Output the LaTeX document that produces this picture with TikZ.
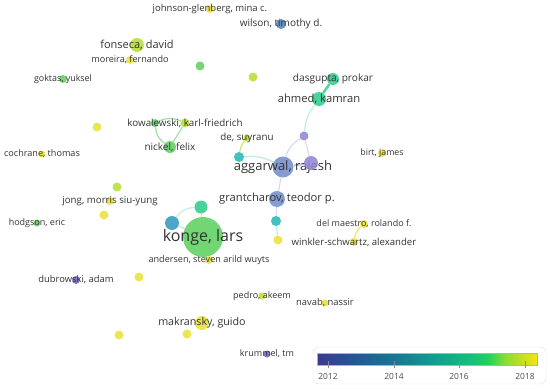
\documentclass[tikz,border=0pt]{standalone}
\usepackage{fontspec}
\setmainfont{Open Sans}
\usetikzlibrary{backgrounds}

\definecolor{yr18}{HTML}{E8E032}
\definecolor{yr17}{HTML}{B5DD2E}
\definecolor{yr16}{HTML}{5ACF5C}
\definecolor{yr15}{HTML}{27CB88}
\definecolor{yr14}{HTML}{1DB7B5}
\definecolor{yr13}{HTML}{2E97BB}
\definecolor{yr12}{HTML}{6F8BC7}
\definecolor{yrw}{HTML}{4D7FB6}
\definecolor{yrp}{HTML}{8C84D0}
\definecolor{yrd}{HTML}{6B62B4}
\definecolor{txt}{HTML}{333333}

\definecolor{c0}{HTML}{3B3A8A}
\definecolor{c1}{HTML}{2A4E92}
\definecolor{c2}{HTML}{1F6493}
\definecolor{c3}{HTML}{167F93}
\definecolor{c4}{HTML}{10A08F}
\definecolor{c5}{HTML}{12C07A}
\definecolor{c6}{HTML}{20D45A}
\definecolor{c7}{HTML}{90DC30}
\definecolor{c8}{HTML}{F5E312}
\pgfdeclarehorizontalshading{yearbar}{100bp}{color(0bp)=(c0); color(25bp)=(c0); color(31bp)=(c1); color(37.5bp)=(c2); color(45bp)=(c3); color(52bp)=(c4); color(60bp)=(c5); color(64bp)=(c6); color(68bp)=(c7); color(75bp)=(c8); color(100bp)=(c8)}

\tikzset{
  author/.style={circle,inner sep=0pt,fill=#1,fill opacity=.85,text opacity=1},
  lbl/.style={text=txt,text opacity=1,inner sep=0pt,font=\fontsize{#1}{#1}\selectfont},
  lbl/.default=9.2,
  link/.style={draw=#1,draw opacity=.3,line width=1.2pt},
}

\begin{document}
\begin{tikzpicture}[x=1pt,y=-1pt]
\useasboundingbox (0,0) rectangle (550,389);

% authors
\node[author=yr18,minimum size=8pt,label={[lbl=9.5]center:johnson-glenberg, mina c.}] (johnson) at (210,9) {};
\node[author=yrw,minimum size=10pt,label={[lbl=10]center:wilson, timothy d.}] (wilson) at (281,24) {};
\node[author=yr17,minimum size=14pt,label={[lbl=11]center:fonseca, david}] (fonseca) at (137,45) {};
\node[author=yr18,minimum size=8pt,label={[lbl=9.1]center:moreira, fernando}] (moreira) at (130,60) {};
\node[author=yr16,minimum size=9pt] (g1) at (200,66) {};
\node[author=yr17,minimum size=9pt] (g2) at (253,77) {};
\node[author=yr16,minimum size=8pt,label={[lbl=8.9]center:goktas, yuksel}] (goktas) at (63,79) {};
\node[author=yr15,minimum size=12pt,label={[lbl=10.1]center:dasgupta, prokar}] (dasgupta) at (333,79) {};
\node[author=yr15,minimum size=14pt,label={[lbl=11.2]center:ahmed, kamran}] (ahmed) at (319,99) {};
\node[author=yr16,minimum size=8pt] (g3) at (155,123) {};
\node[author=yr17,minimum size=9pt,label={[lbl=9.8]center:kowalewski, karl-friedrich}] (kowalewski) at (185,123) {};
\node[author=yr16,minimum size=12pt,label={[lbl=10]center:nickel, felix}] (nickel) at (170,147) {};
\node[author=yr18,minimum size=9pt] (y1) at (97,127) {};
\node[author=yr17,minimum size=7pt,label={[lbl=9.8]center:de, suyranu}] (de) at (247,138) {};
\node[author=yr14,minimum size=10pt] (t1) at (239,157) {};
\node[author=yr12,minimum size=21pt,label={[lbl=13]center:aggarwal, rajesh}] (aggarwal) at (283,167) {};
\node[author=yrp,minimum size=14pt] (p1) at (311,163) {};
\node[author=yrp,minimum size=9pt] (p2) at (304,136) {};
\node[author=yr18,minimum size=8pt,label={[lbl=8.8]center:birt, james}] (birt) at (382,153) {};
\node[author=yr18,minimum size=7pt,label={[lbl=9.1]center:cochrane, thomas}] (cochrane) at (42,154) {};
\node[author=yr12,minimum size=16pt,label={[lbl=11.2]center:grantcharov, teodor p.}] (grantcharov) at (277,199) {};
\node[author=yr17,minimum size=9pt] (y2) at (117,187) {};
\node[author=yr18,minimum size=8pt,label={[lbl=9.7]center:jong, morris siu-yung}] (jong) at (110,201) {};
\node[author=yr18,minimum size=9pt] (y3) at (104,215) {};
\node[author=yr16,minimum size=7pt,label={[lbl=9]center:hodgson, eric}] (hodgson) at (37,223) {};
\node[author=yr15,minimum size=13pt] (t2) at (201,207) {};
\node[author=yr13,minimum size=14pt] (t3) at (172,223) {};
\node[author=yr16,minimum size=40pt,label={[lbl=16]center:konge, lars}] (konge) at (203,237) {};
\node[author=yr14,minimum size=10pt] (t4) at (276,221) {};
\node[author=yr18,minimum size=9pt] (y4) at (278,240) {};
\node[author=yr18,minimum size=8pt,label={[lbl=9]center:del maestro, rolando f.}] (delmaestro) at (364,224) {};
\node[author=yr18,minimum size=8pt,label={[lbl=9.6]center:winkler-schwartz, alexander}] (winkler) at (354,242) {};
\node[author=yr18,minimum size=8pt,label={[lbl=9.1]center:andersen, steven arild wuyts}] (andersen) at (209,260) {};
\node[author=yr18,minimum size=9pt] (y5) at (139,277) {};
\node[author=yrd,minimum size=8pt,label={[lbl=9.4]center:dubrowski, adam}] (dubrowski) at (76,280) {};
\node[author=yr17,minimum size=7pt,label={[lbl=9]center:pedro, akeem}] (pedro) at (262,296) {};
\node[author=yr18,minimum size=7pt,label={[lbl=9.4]center:navab, nassir}] (navab) at (325,303) {};
\node[author=yr18,minimum size=14pt,label={[lbl=10.7]center:makransky, guido}] (makransky) at (202,323) {};
\node[author=yr18,minimum size=9pt] (y6) at (187,334) {};
\node[author=yr18,minimum size=9pt] (y7) at (119,335) {};
\node[author=yrd,minimum size=7pt,label={[lbl=9]center:krummel, tm}] (krummel) at (267,354) {};

% links
\begin{scope}[on background layer]
\draw[link=yr15,draw opacity=.8,line width=2.5pt] (dasgupta) -- (ahmed);
\draw[link=yr15] (ahmed) to[bend right=15] (p2);
\draw[link=yrp] (p2) -- (p1);
\draw[link=yr12] (aggarwal) to[bend left=20] (p2);
\draw[link=yrp,draw opacity=.5,line width=2pt] (aggarwal) -- (p1);
\draw[link=yr17,draw opacity=.7] (de) to[bend right=15] (t1);
\draw[link=yr14] (t1) to[bend left=15] (aggarwal);
\draw[link=yr12] (aggarwal) -- (grantcharov);
\draw[link=yr12] (grantcharov) -- (t4);
\draw[link=yr14] (t4) -- (y4);
\draw[link=yr16,draw opacity=.6] (g3) to[bend left=25] (kowalewski);
\draw[link=yr16,draw opacity=.6] (g3) to[bend right=25] (nickel);
\draw[link=yr16,draw opacity=.6] (kowalewski) -- (nickel);
\draw[link=yr15] (konge) -- (t2);
\draw[link=yr13] (konge) -- (t3);
\draw[link=yr15] (t3) to[bend left=25] (t2);
\draw[link=yr18,draw opacity=.7] (delmaestro) to[bend right=20] (winkler);
\end{scope}

% year scale
\draw[draw=black!12,fill=white,rounded corners=6pt] (313,347) rectangle (546,384);
\shade[shading=yearbar,draw=black!30,line width=.4pt] (317,353) rectangle (537,365);
\foreach \yr/\xx in {2012/328,2014/394,2016/459,2018/525}{
  \draw[black!45,line width=.5pt] (\xx,361) -- (\xx,368);
  \node[text=black!70,font=\fontsize{8.4}{8.4}\selectfont,inner sep=0pt] (scale\yr) at (\xx,376) {\yr};
}
\end{tikzpicture}
\end{document}
